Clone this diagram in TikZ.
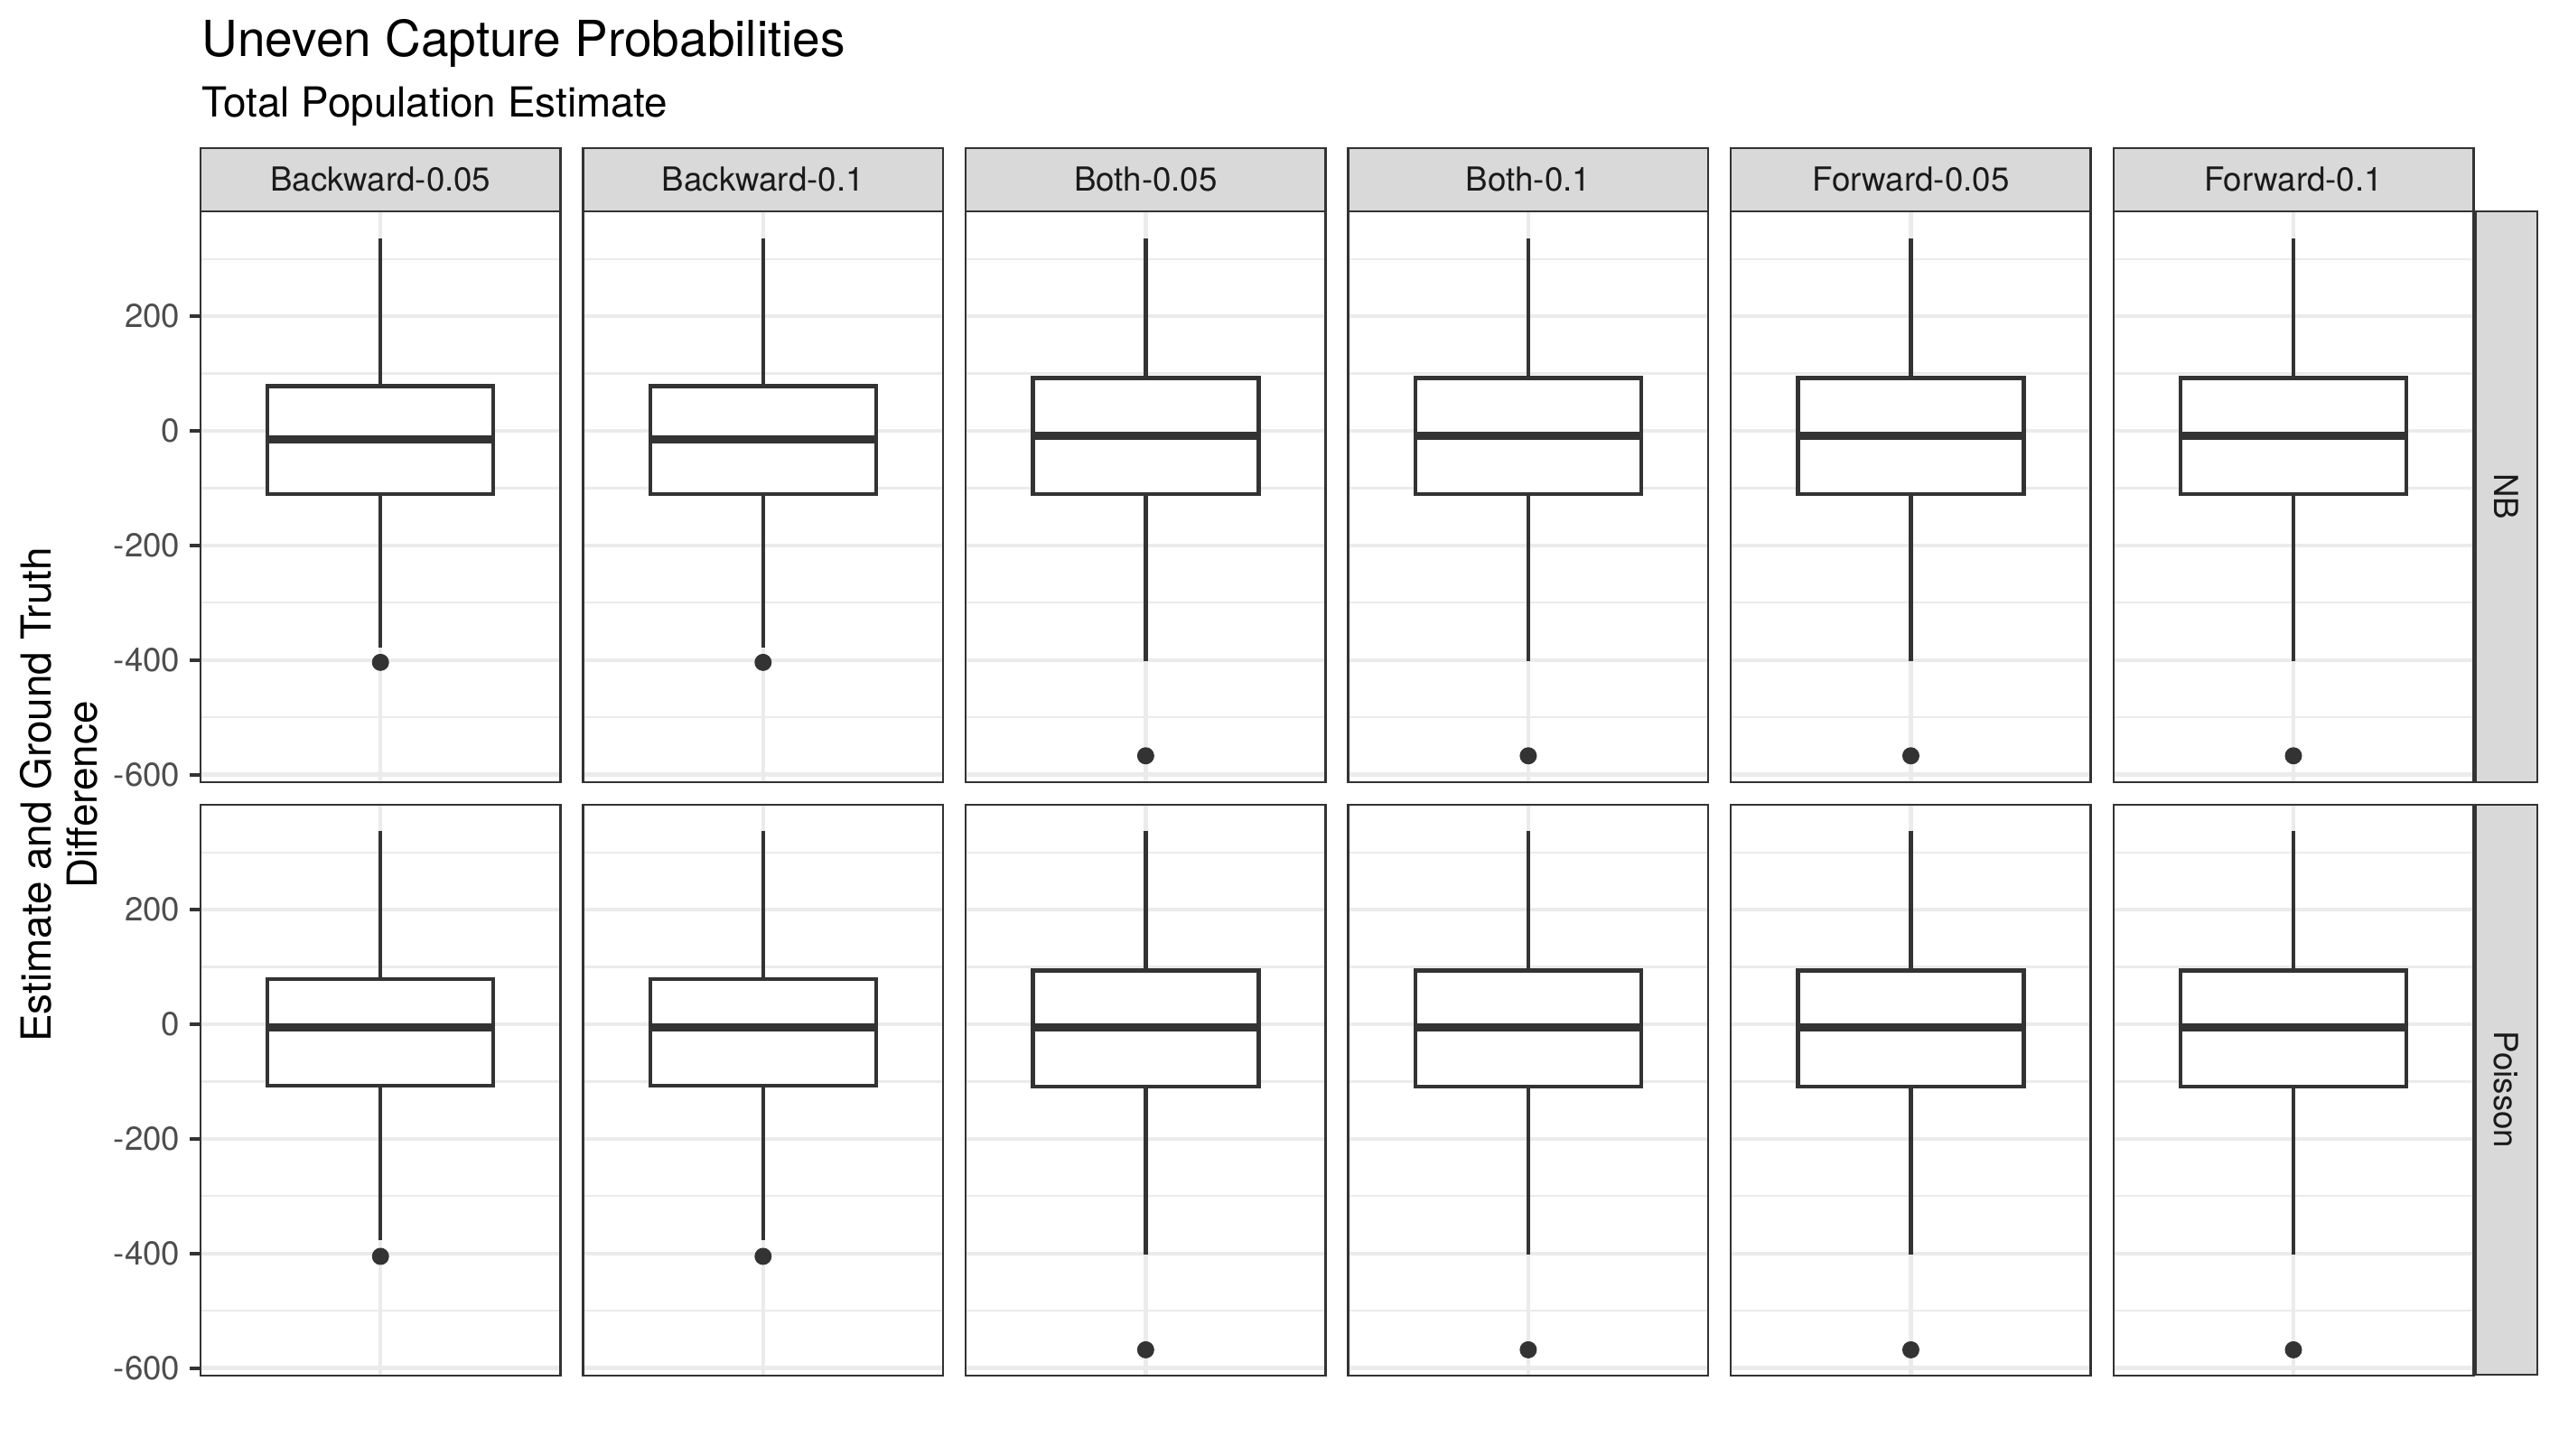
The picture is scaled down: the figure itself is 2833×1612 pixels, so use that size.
\documentclass[tikz,border=0pt]{standalone}
\usepackage{fontspec}
\setmainfont{TeX Gyre Heros}
\usetikzlibrary{positioning}

\definecolor{gridgray}{HTML}{EBEBEB}
\definecolor{boxgray}{HTML}{333333}
\definecolor{stripgray}{HTML}{D9D9D9}
\definecolor{ticktext}{HTML}{4D4D4D}
\definecolor{striptext}{HTML}{1A1A1A}

\tikzset{
  declare function={yv(\v)=(383-(\v))*0.6345;},
  grid major/.style={draw=gridgray,line width=1.07pt},
  grid minor/.style={draw=gridgray,line width=0.53pt},
  panel border/.style={draw=boxgray,line width=0.6pt},
  strip/.style={fill=stripgray,draw=boxgray,line width=0.6pt},
  strip label/.style={text=striptext,font=\fontsize{8.8}{10}\selectfont,inner sep=0pt},
  tick label/.style={text=ticktext,font=\fontsize{8.8}{10}\selectfont,anchor=east,inner sep=0pt},
  box line/.style={draw=boxgray,line width=1.07pt},
  median line/.style={draw=boxgray,line width=2.13pt},
  outlier/.style={fill=boxgray},
}

% #1 left, #2 top, #3 upper whisker, #4 q3, #5 median, #6 q1, #7 lower whisker, #8 outlier
\newcommand{\FacetPanel}[8]{%
  \begin{scope}[shift={(#1,#2)}]
    \begin{scope}
      \clip (0,0) rectangle (398.5,632);
      \foreach \v in {-500,-300,-100,100,300}
        \draw[grid minor] (0,{yv(\v)}) -- (398.5,{yv(\v)});
      \foreach \v in {-600,-400,-200,0,200}
        \draw[grid major] (0,{yv(\v)}) -- (398.5,{yv(\v)});
      \draw[grid major] (199.25,0) -- (199.25,632);
    \end{scope}
    \draw[box line] (199.25,{yv(#3)}) -- (199.25,{yv(#4)});
    \draw[box line] (199.25,{yv(#6)}) -- (199.25,{yv(#7)});
    \draw[box line,fill=white] (74.25,{yv(#4)}) rectangle (324.25,{yv(#6)});
    \draw[median line] (74.25,{yv(#5)}) -- (324.25,{yv(#5)});
    \fill[outlier] (199.25,{yv(#8)}) circle[radius=2.28pt];
    \draw[panel border] (0,0) rectangle (398.5,632);
  \end{scope}}

\begin{document}
\begin{tikzpicture}[x=0.24pt,y=-0.24pt]
  \useasboundingbox (0,0) rectangle (2833,1612);
  \node[anchor=base west,inner sep=0pt,font=\fontsize{13.2}{15}\selectfont] (T1) at (223,62.5) {Uneven Capture Probabilities};
  \node[anchor=base west,inner sep=0pt,font=\fontsize{11}{13}\selectfont] (T2) at (223,130) {Total Population Estimate};

  \FacetPanel{222}{234}{336}{78}{-15}{-110}{-379}{-404}
  \FacetPanel{645.55}{234}{336}{78}{-15}{-110}{-379}{-404}
  \FacetPanel{1069.1}{234}{336}{92}{-9}{-110}{-402}{-567}
  \FacetPanel{1492.65}{234}{336}{92}{-9}{-110}{-402}{-567}
  \FacetPanel{1916.2}{234}{336}{92}{-9}{-110}{-402}{-567}
  \FacetPanel{2339.75}{234}{336}{92}{-9}{-110}{-402}{-567}

  \FacetPanel{222}{891}{337}{79}{-6}{-107}{-376}{-405}
  \FacetPanel{645.55}{891}{337}{79}{-6}{-107}{-376}{-405}
  \FacetPanel{1069.1}{891}{338}{94}{-5}{-109}{-402}{-568}
  \FacetPanel{1492.65}{891}{338}{94}{-5}{-109}{-402}{-568}
  \FacetPanel{1916.2}{891}{338}{94}{-5}{-109}{-402}{-568}
  \FacetPanel{2339.75}{891}{338}{94}{-5}{-109}{-402}{-568}

  \foreach \l/\n/\s in {222/S1/Backward-0.05,645.55/S2/Backward-0.1,1069.1/S3/Both-0.05,
      1492.65/S4/Both-0.1,1916.2/S5/Forward-0.05,2339.75/S6/Forward-0.1}{
    \draw[strip] (\l,164) rectangle ++(398.5,70);
    \node[strip label,anchor=base] (\n) at (\l+199.25,211.5) {\s};
  }

  \draw[strip] (2740.5,234) rectangle (2808.8,866);
  \node[strip label,rotate=-90] (R1) at (2774.6,550) {NB};
  \draw[strip] (2740.5,891) rectangle (2808.8,1522);
  \node[strip label,rotate=-90] (R2) at (2774.6,1206.5) {Poisson};

  \foreach \r/\t in {0/234,1/891}
    \foreach \v in {-600,-400,-200,0,200}{
      \draw[box line,line width=1pt] (210,{\t+yv(\v)}) -- (222,{\t+yv(\v)});
      \node[tick label] (Y\r\v) at (200,{\t+yv(\v)}) {\v};
    }

  \node[anchor=base,rotate=90,inner sep=0pt,font=\fontsize{11}{13}\selectfont] (L1) at (57,880) {Estimate and Ground Truth};
  \node[anchor=base,rotate=90,inner sep=0pt,font=\fontsize{11}{13}\selectfont] (L2) at (107,880) {Difference};
\end{tikzpicture}
\end{document}
